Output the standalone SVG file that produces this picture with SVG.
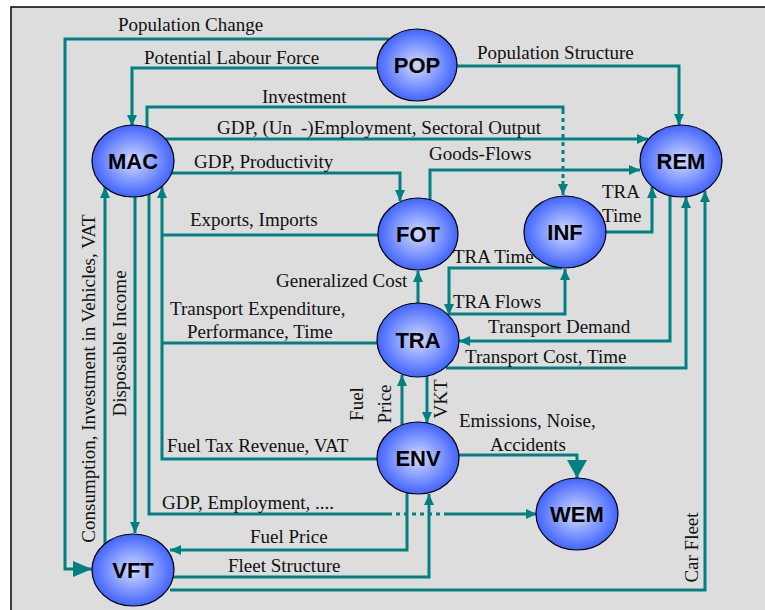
<svg xmlns="http://www.w3.org/2000/svg" width="765" height="610" viewBox="0 0 765 610">
<defs>
<radialGradient id="ball" cx="50%" cy="50%" r="55%">
<stop offset="0%" stop-color="#d2dcff"/>
<stop offset="100%" stop-color="#3358ff"/>
</radialGradient>
<marker id="arr" markerUnits="userSpaceOnUse" markerWidth="11" markerHeight="10" refX="11" refY="5" orient="auto">
<path d="M0,0 L11,5 L0,10 z" fill="#008080"/>
</marker>
<marker id="arrBig" markerUnits="userSpaceOnUse" markerWidth="19" markerHeight="16" refX="19" refY="8" orient="auto">
<path d="M0,0 L19,8 L0,16 z" fill="#008080"/>
</marker>
<marker id="arrW" markerUnits="userSpaceOnUse" markerWidth="18" markerHeight="20" refX="18" refY="10" orient="auto">
<path d="M0,0 L18,10 L0,20 z" fill="#008080"/>
</marker>
</defs>
<style>
.bg{fill:#dddddd;stroke:#000;stroke-width:1.5}
.c{fill:none;stroke:#008080;stroke-width:3}
.d{fill:none;stroke:#008080;stroke-width:3;stroke-dasharray:4 4}
.a{marker-end:url(#arr)}
.n ellipse{fill:url(#ball);stroke:#000;stroke-width:1.2}
.n text{font-family:"Liberation Sans",Arial,sans-serif;font-weight:bold;font-size:22px;fill:#000;text-anchor:middle}
.t{font-family:"Liberation Serif","Times New Roman",serif;font-size:19px;fill:#111}
.m{text-anchor:middle}
</style>
<rect class="bg" x="11" y="7" width="770" height="620"/>

<g id="connectors">
<path class="c" d="M389 39 H65 V569 H92" marker-end="url(#arrBig)"/>
<path class="c a" d="M378 68 H132 V126"/>
<path class="c a" d="M457 66 H679 V125"/>
<path class="c" d="M147 128 V107 H563 V110"/>
<path class="d" d="M563 110 V181"/>
<path class="c a" d="M563 181 V195"/>
<path class="c a" d="M165 139 H648"/>
<path class="c a" d="M172 173 H400 V201"/>
<path class="c a" d="M430 200 V170 H640"/>
<path class="c" d="M378 235 H162"/>
<path class="c" d="M377 343 H162"/>
<path class="c a" d="M378 459 H162 V187"/>
<path class="c a" d="M105 544 V187"/>
<path class="c a" d="M135 197 V533"/>
<path class="c" d="M149 194 V514 H388"/>
<path class="d" d="M388 514 H444"/>
<path class="c a" d="M444 514 H537"/>
<path class="c a" d="M407 493 V550 H170"/>
<path class="c a" d="M173 577 H429 V494"/>
<path class="c a" d="M170 590 H705 V191"/>
<path class="c a" d="M606 232 H652 V187"/>
<path class="c a" d="M670 196 V341 H459"/>
<path class="c a" d="M446 368 H686 V197"/>
<path class="c a" d="M562 268 H449 V315"/>
<path class="c a" d="M449 314 H565 V269"/>
<path class="c a" d="M418 303 V271"/>
<path class="c a" d="M402 425 V375"/>
<path class="c a" d="M427 376 V423"/>
<path class="c" d="M458 455 H577 V478" marker-end="url(#arrW)"/>
</g>

<g id="labels">
<text class="t" x="118" y="31">Population Change</text>
<text class="t" x="144" y="64">Potential Labour Force</text>
<text class="t" x="477" y="59">Population Structure</text>
<text class="t" x="262" y="103">Investment</text>
<text class="t" y="134"><tspan x="217">GDP, (Un</tspan><tspan x="301">-)Employment, Sectoral Output</tspan></text>
<text class="t" x="194" y="168">GDP, Productivity</text>
<text class="t" x="429" y="160">Goods-Flows</text>
<text class="t" x="190" y="226">Exports, Imports</text>
<text class="t" x="276" y="287">Generalized Cost</text>
<text class="t" x="170" y="315">Transport Expenditure,</text>
<text class="t" x="187" y="338">Performance, Time</text>
<text class="t" x="602" y="198">TRA</text>
<text class="t" x="602" y="222">Time</text>
<text class="t" x="453" y="263">TRA Time</text>
<text class="t" x="453" y="308">TRA Flows</text>
<text class="t" x="488" y="333">Transport Demand</text>
<text class="t" x="465" y="363">Transport Cost, Time</text>
<text class="t" x="167" y="452">Fuel Tax Revenue, VAT</text>
<text class="t" x="162" y="509">GDP, Employment, ....</text>
<text class="t" x="250" y="543">Fuel Price</text>
<text class="t" x="228" y="572">Fleet Structure</text>
<text class="t" x="459" y="427">Emissions, Noise,</text>
<text class="t" x="490" y="451">Accidents</text>
<text class="t m" transform="translate(95,378.5) rotate(-90)">Consumption, Investment in Vehicles, VAT</text>
<text class="t m" transform="translate(126,343.5) rotate(-90)">Disposable Income</text>
<text class="t m" transform="translate(698,547.5) rotate(-90)">Car Fleet</text>
<text class="t m" transform="translate(363,404) rotate(-90)">Fuel</text>
<text class="t m" transform="translate(391,404) rotate(-90)">Price</text>
<text class="t m" transform="translate(447,399) rotate(-90)">VKT</text>
</g>

<g id="node-POP" class="n"><ellipse cx="417" cy="65" rx="40" ry="36"/><text x="417" y="73">POP</text></g>
<g id="node-MAC" class="n"><ellipse cx="133" cy="161" rx="41" ry="36"/><text x="133" y="169">MAC</text></g>
<g id="node-REM" class="n"><ellipse cx="681" cy="161" rx="41" ry="36"/><text x="681" y="169">REM</text></g>
<g id="node-FOT" class="n"><ellipse cx="418" cy="234" rx="40" ry="36"/><text x="418" y="242">FOT</text></g>
<g id="node-INF" class="n"><ellipse cx="565" cy="232" rx="41" ry="36"/><text x="565" y="240">INF</text></g>
<g id="node-TRA" class="n"><ellipse cx="418" cy="340" rx="41" ry="37"/><text x="418" y="348">TRA</text></g>
<g id="node-ENV" class="n"><ellipse cx="418" cy="458" rx="41" ry="36"/><text x="418" y="466">ENV</text></g>
<g id="node-WEM" class="n"><ellipse cx="577" cy="514" rx="41" ry="36"/><text x="577" y="522">WEM</text></g>
<g id="node-VFT" class="n"><ellipse cx="133" cy="570" rx="41" ry="36"/><text x="133" y="578">VFT</text></g>
</svg>
